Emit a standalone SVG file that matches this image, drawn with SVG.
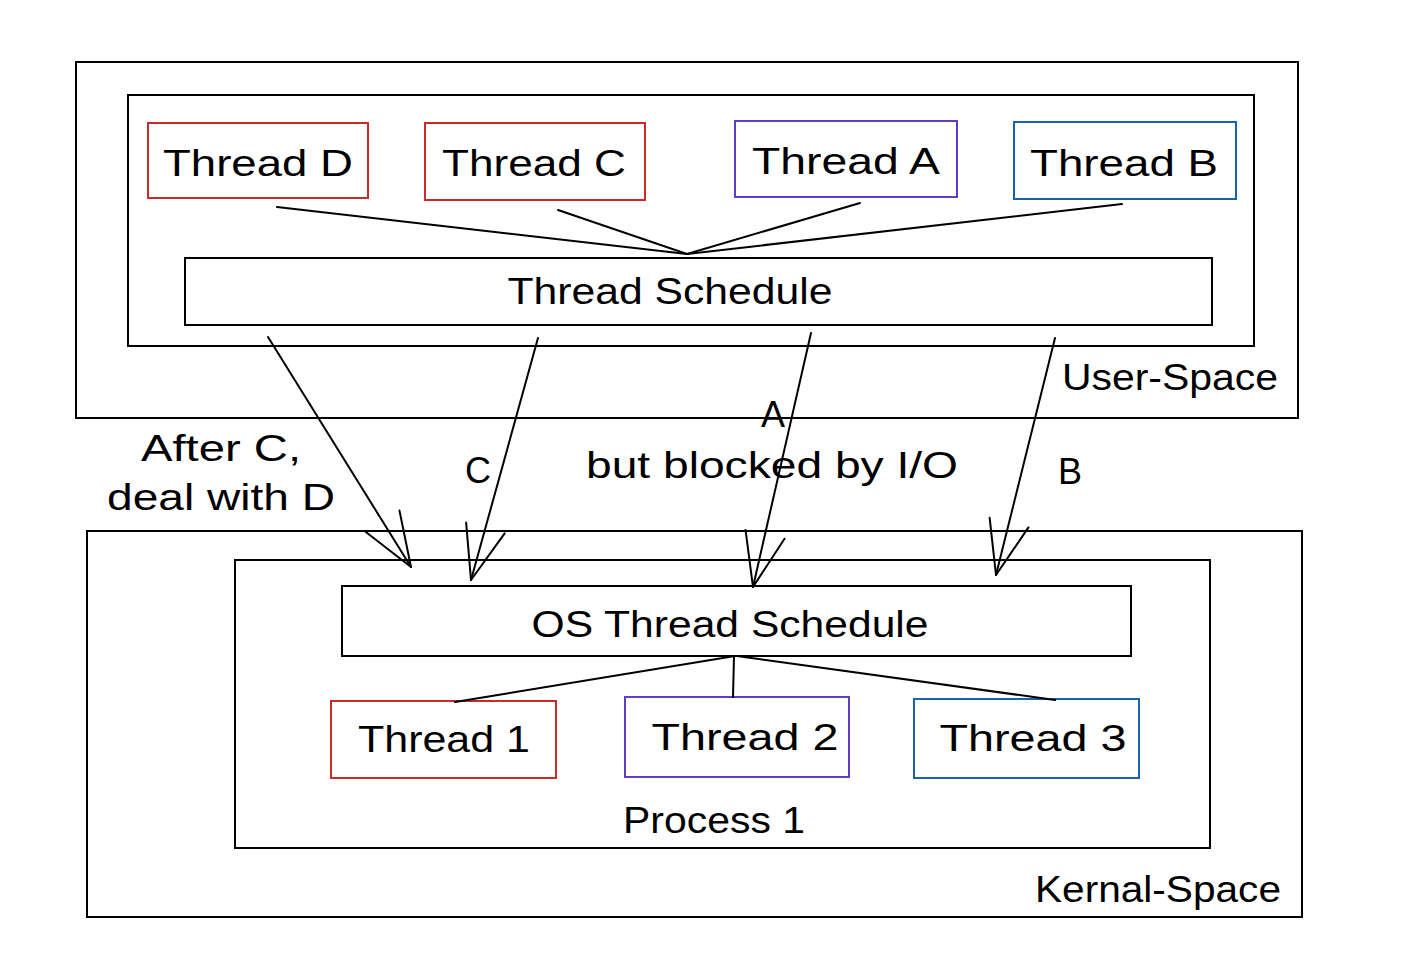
<svg xmlns="http://www.w3.org/2000/svg" width="1402" height="974" viewBox="0 0 1402 974">
<style>
text{font-family:"Liberation Sans",Arial,sans-serif;fill:#000;}
.lbl{font-size:36px;text-anchor:middle;}
.frame{fill:none;stroke:#000;stroke-width:2;}
.red{fill:none;stroke:#c92a2a;stroke-width:2;}
.vio{fill:none;stroke:#5f3dc4;stroke-width:2;}
.blu{fill:none;stroke:#1864ab;stroke-width:2;}
.box{fill:#fff;stroke:#000;stroke-width:2;}
.con{fill:none;stroke:#000;stroke-width:2;stroke-linecap:round;}
</style>
<defs>
<marker id="arr" markerUnits="userSpaceOnUse" viewBox="-60 -25 65 50" markerWidth="65" markerHeight="50" refX="0" refY="0" orient="auto" overflow="visible">
<path d="M -54 -20 L 0 0 L -54 20" fill="none" stroke="#000" stroke-width="2" stroke-linecap="round" stroke-linejoin="round"/>
</marker>
</defs>
<rect width="1402" height="974" fill="#fff"/>

<g id="user-space">
<rect class="frame" x="76" y="62" width="1222" height="356"/>
<text class="lbl" x="1170" y="390" textLength="216" lengthAdjust="spacingAndGlyphs">User-Space</text>
</g>
<g id="user-process">
<rect class="frame" x="128" y="95" width="1126" height="251"/>
</g>
<g id="thread-d">
<rect class="red" x="148" y="123" width="220" height="75"/>
<text class="lbl" x="258" y="176" textLength="190" lengthAdjust="spacingAndGlyphs">Thread D</text>
</g>
<g id="thread-c">
<rect class="red" x="425" y="123" width="220" height="77"/>
<text class="lbl" x="534" y="176" textLength="184" lengthAdjust="spacingAndGlyphs">Thread C</text>
</g>
<g id="thread-a">
<rect class="vio" x="735" y="121" width="222" height="76"/>
<text class="lbl" x="846" y="174" textLength="188" lengthAdjust="spacingAndGlyphs">Thread A</text>
</g>
<g id="thread-b">
<rect class="blu" x="1014" y="122" width="222" height="77"/>
<text class="lbl" x="1124" y="176" textLength="188" lengthAdjust="spacingAndGlyphs">Thread B</text>
</g>
<g id="thread-schedule">
<rect class="box" x="185" y="258" width="1027" height="67"/>
<text class="lbl" x="670" y="304" textLength="325" lengthAdjust="spacingAndGlyphs">Thread Schedule</text>
</g>

<g id="kernel-space">
<rect class="frame" x="87" y="531" width="1215" height="386"/>
<text class="lbl" x="1158" y="902" textLength="246" lengthAdjust="spacingAndGlyphs">Kernal-Space</text>
</g>
<g id="process-1">
<rect class="frame" x="235" y="560" width="975" height="288"/>
<text class="lbl" x="714" y="833" textLength="182" lengthAdjust="spacingAndGlyphs">Process 1</text>
</g>
<g id="os-thread-schedule">
<rect class="box" x="342" y="586" width="789" height="70"/>
<text class="lbl" x="730" y="637" textLength="397" lengthAdjust="spacingAndGlyphs">OS Thread Schedule</text>
</g>
<g id="thread-1">
<rect class="red" x="331" y="701" width="225" height="77"/>
<text class="lbl" x="444" y="752" textLength="172" lengthAdjust="spacingAndGlyphs">Thread 1</text>
</g>
<g id="thread-2">
<rect class="vio" x="625" y="697" width="224" height="80"/>
<text class="lbl" x="745" y="750" textLength="187" lengthAdjust="spacingAndGlyphs">Thread 2</text>
</g>
<g id="thread-3">
<rect class="blu" x="914" y="699" width="225" height="79"/>
<text class="lbl" x="1033" y="751" textLength="187" lengthAdjust="spacingAndGlyphs">Thread 3</text>
</g>

<g id="connectors">
<path class="con" d="M 277 207 L 687 254"/>
<path class="con" d="M 558 210 L 687 254"/>
<path class="con" d="M 860 203 L 687 254"/>
<path class="con" d="M 1122 204 L 687 254"/>
<path class="con" d="M 268 337 L 411 567" marker-end="url(#arr)"/>
<path class="con" d="M 538 338 L 471 580" marker-end="url(#arr)"/>
<path class="con" d="M 811 333 L 753 587" marker-end="url(#arr)"/>
<path class="con" d="M 1055 338 L 996 575" marker-end="url(#arr)"/>
<path class="con" d="M 735 656 L 455 702"/>
<path class="con" d="M 734 656 L 733 697"/>
<path class="con" d="M 737 656 L 1055 700"/>
</g>

<g id="labels">
<text class="lbl" x="221" y="461" textLength="160" lengthAdjust="spacingAndGlyphs">After C,</text>
<text class="lbl" x="221" y="510" textLength="228" lengthAdjust="spacingAndGlyphs">deal with D</text>
<text class="lbl" x="478" y="483">C</text>
<text class="lbl" x="773" y="427">A</text>
<text class="lbl" x="772" y="478" textLength="372" lengthAdjust="spacingAndGlyphs">but blocked by I/O</text>
<text class="lbl" x="1070" y="484">B</text>
</g>
</svg>
